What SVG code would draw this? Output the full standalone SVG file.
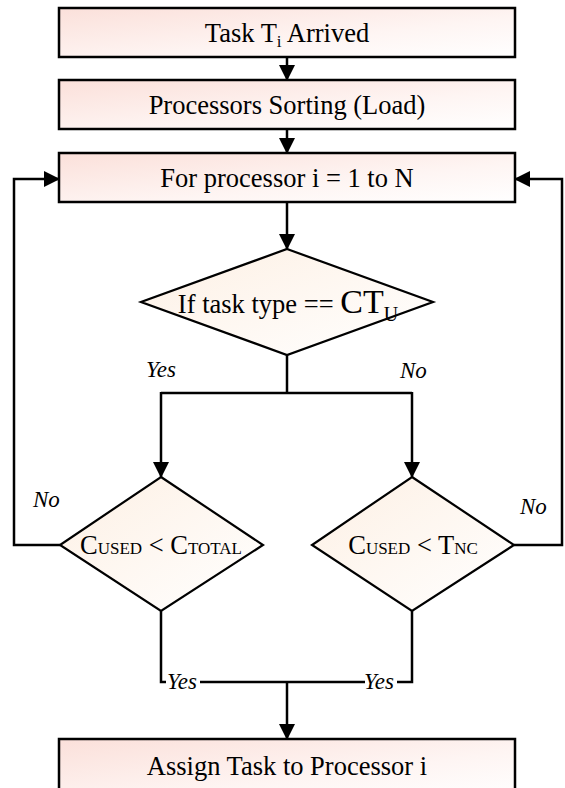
<svg xmlns="http://www.w3.org/2000/svg" width="565" height="788" viewBox="0 0 565 788">
<style>
.box{stroke:#000;stroke-width:2.5;fill:url(#gBox)}
.dia{stroke:#000;stroke-width:2.2;fill:url(#gDia)}
.ln{stroke:#000;stroke-width:2.5;fill:none}
.arr{marker-end:url(#ah)}
.t{font-family:"Liberation Serif","Times New Roman",serif;font-size:26.5px;fill:#000;text-anchor:middle}
.lab{font-family:"Liberation Serif","Times New Roman",serif;font-size:23px;font-style:italic;fill:#000}
</style>
<defs>
<linearGradient id="gBox" x1="0" y1="0" x2="1" y2="1">
<stop offset="0" stop-color="#fbe0da"/>
<stop offset="0.6" stop-color="#fef5f3"/>
<stop offset="1" stop-color="#ffffff"/>
</linearGradient>
<linearGradient id="gDia" x1="0" y1="0" x2="1" y2="1">
<stop offset="0" stop-color="#fdf0e4"/>
<stop offset="1" stop-color="#ffffff"/>
</linearGradient>
<marker id="ah" viewBox="0 0 16 16" refX="15" refY="8" markerWidth="16" markerHeight="16" markerUnits="userSpaceOnUse" orient="auto">
<path d="M0,0 L16,8 L0,16 z" fill="#000"/>
</marker>
</defs>

<g id="connectors">
<line class="ln arr" x1="287" y1="57" x2="287" y2="80"/>
<line class="ln arr" x1="287" y1="129" x2="287" y2="153"/>
<line class="ln arr" x1="287" y1="202" x2="287" y2="249"/>
<polyline class="ln" points="287,355 287,393"/>
<polyline class="ln" points="161,393 412,393"/>
<line class="ln arr" x1="161" y1="392" x2="161" y2="477"/>
<line class="ln arr" x1="412" y1="392" x2="412" y2="477"/>
<polyline class="ln arr" points="60,545 14,545 14,179 59,179"/>
<polyline class="ln arr" points="514,545 562,545 562,179 515,179"/>
<polyline class="ln" points="161,611 161,682 166,682"/>
<polyline class="ln" points="200,682 365,682"/>
<polyline class="ln" points="397,682 412,682 412,611"/>
<line class="ln arr" x1="287" y1="682" x2="287" y2="739"/>
</g>

<g id="n1">
<rect class="box" x="59" y="8" width="456" height="49"/>
<text class="t" x="287" y="42">Task T<tspan font-size="17" dy="5">i</tspan><tspan dy="-5"> Arrived</tspan></text>
</g>
<g id="n2">
<rect class="box" x="59" y="80" width="456" height="49"/>
<text class="t" x="287" y="114">Processors Sorting (Load)</text>
</g>
<g id="n3">
<rect class="box" x="59" y="153" width="456" height="49"/>
<text class="t" x="287" y="187">For processor i = 1 to N</text>
</g>
<g id="n4">
<polygon class="dia" points="287,249 433,302 287,355 141,302"/>
<text class="t" x="288" y="313">If task type == <tspan font-size="34">CT</tspan><tspan font-size="20" dy="8">U</tspan></text>
</g>
<g id="n5">
<polygon class="dia" points="161,477 263,545 161,611 60,545"/>
<text class="t" x="161" y="554">C<tspan font-size="17">USED</tspan> &lt; C<tspan font-size="17">TOTAL</tspan></text>
</g>
<g id="n6">
<polygon class="dia" points="412,477 514,545 412,611 312,545"/>
<text class="t" x="413" y="554">C<tspan font-size="17">USED</tspan> &lt; T<tspan font-size="17">NC</tspan></text>
</g>
<g id="n7">
<rect class="box" x="59" y="739" width="456" height="60"/>
<text class="t" x="287" y="775">Assign Task to Processor i</text>
</g>

<g id="labels">
<text class="lab" x="146" y="377">Yes</text>
<text class="lab" x="400" y="378">No</text>
<text class="lab" x="33" y="507">No</text>
<text class="lab" x="520" y="514">No</text>
<text class="lab" x="167" y="689">Yes</text>
<text class="lab" x="364" y="689">Yes</text>
</g>
</svg>
